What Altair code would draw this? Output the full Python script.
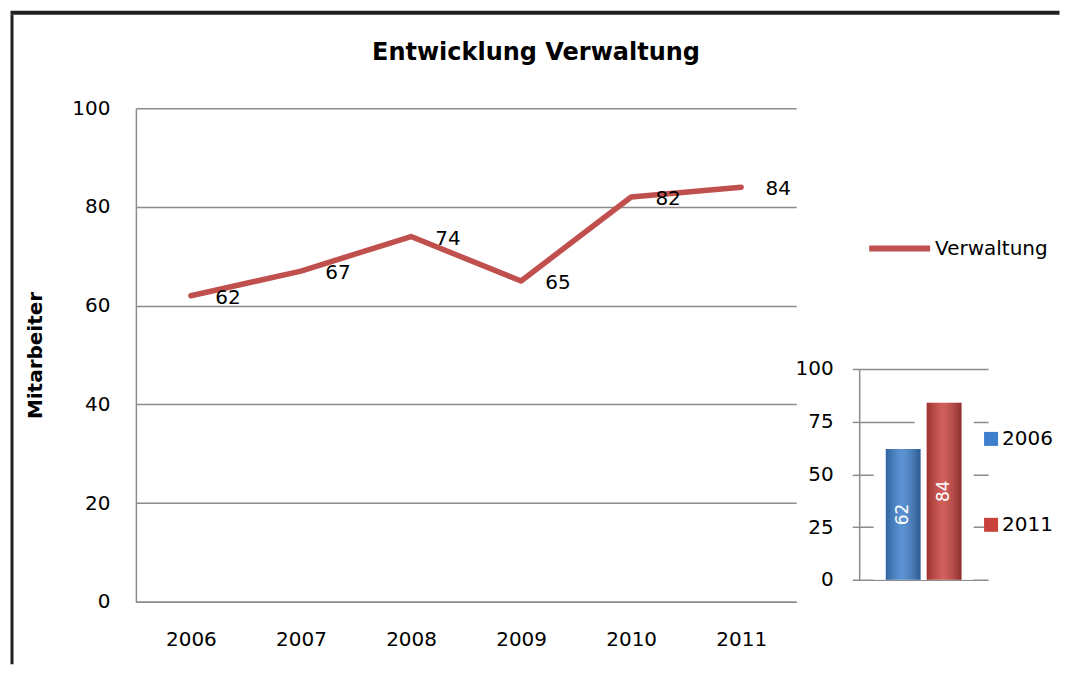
import altair as alt
import pandas as pd

# ---- data ----
years = ["2006", "2007", "2008", "2009", "2010", "2011"]
staff = [62, 67, 74, 65, 82, 84]
series_name = ["Verwaltung"] * 6
compare_years = ["2006", "2011"]
compare_values = [62, 84]
main_ticks = [0, 20, 40, 60, 80, 100]
inset_ticks = [0, 25, 50, 75, 100]

FONT = "DejaVu Sans"
GRID = "#8c8c8c"
LINE_RED = "#c0504d"
BAR_BLUE = "#3d7fcc"
BAR_RED = "#c9403c"
FRAME = "#231f20"

df = pd.DataFrame({"Jahr": years, "Mitarbeiter": staff, "Reihe": series_name})
dfc = pd.DataFrame({"Vergleich": compare_years, "Wert": compare_values})

# ---- main line chart ----
x = alt.X("Jahr:O", scale=alt.Scale(type="point", padding=0.5),
          axis=alt.Axis(title=None, labelAngle=0, labelFontSize=20, labelFont=FONT,
                        labelColor="black", labelPadding=28, ticks=False,
                        domainColor=GRID, domainWidth=1.5, grid=False))
y = alt.Y("Mitarbeiter:Q", scale=alt.Scale(domain=[0, 100], nice=False),
          axis=alt.Axis(values=main_ticks, title="Mitarbeiter", titleFontSize=20,
                        titleFont=FONT, titleFontWeight="bold", titleColor="black",
                        titlePadding=26, labelFontSize=20, labelFont=FONT,
                        labelColor="black", labelPadding=26, ticks=False,
                        domainColor=GRID, domainWidth=1.5, gridColor=GRID,
                        gridWidth=1.5))

base = alt.Chart(df)
line = base.mark_line(strokeWidth=5.5, strokeCap="round", strokeJoin="round").encode(
    x=x, y=y,
    color=alt.Color("Reihe:N", scale=alt.Scale(domain=["Verwaltung"], range=[LINE_RED]),
                    legend=alt.Legend(title=None, orient="none", legendX=731, legendY=107,
                                      symbolType="stroke", symbolSize=3721,
                                      symbolStrokeWidth=6, labelFontSize=20,
                                      labelFont=FONT, labelColor="black", labelOffset=2)))
labels = base.mark_text(dx=37, dy=2, fontSize=20, font=FONT, color="black").encode(
    x=x, y=y, text="Mitarbeiter:Q")

main = alt.layer(line, labels).properties(
    width=661, height=494,
    title=alt.TitleParams("Entwicklung Verwaltung", fontSize=24, font=FONT,
                          fontWeight="bold", color="black", anchor="middle",
                          dx=70, offset=33))

# ---- inset bar chart ----
xb = alt.X("Vergleich:N", scale=alt.Scale(paddingInner=0.15, paddingOuter=0.65), axis=None)
yb = alt.Y("Wert:Q", scale=alt.Scale(domain=[0, 100], nice=False),
           axis=alt.Axis(values=inset_ticks, title=None, labelFontSize=20, labelFont=FONT,
                         labelColor="black", labelPadding=19, tickSize=7, tickColor=GRID,
                         tickWidth=1.5, domainColor=GRID, domainWidth=1.5,
                         gridColor=GRID, gridWidth=1.5))

cb = alt.Chart(dfc)
halo = cb.mark_bar(color="white", width=alt.RelativeBandSize(band=1.7)).encode(x=xb, y=yb)
bars = cb.mark_bar().encode(
    x=xb, y=yb,
    color=alt.Color("Vergleich:N",
                    scale=alt.Scale(domain=compare_years, range=[BAR_BLUE, BAR_RED]),
                    legend=alt.Legend(title=None, orient="none", legendX=122, legendY=60,
                                      symbolType="square", symbolSize=196,
                                      symbolStrokeWidth=0, labelFontSize=20,
                                      labelFont=FONT, labelColor="black",
                                      labelOffset=1, rowPadding=66)))
gloss = cb.mark_bar(fill=alt.Gradient(
    gradient="linear", x1=0, x2=1, y1=0, y2=0,
    stops=[alt.GradientStop(offset=0, color="rgba(0,0,0,0.22)"),
           alt.GradientStop(offset=0.45, color="rgba(255,255,255,0.16)"),
           alt.GradientStop(offset=1, color="rgba(0,0,0,0.30)")])).encode(x=xb, y=yb)
vals = cb.mark_text(angle=270, color="white", fontSize=17, font=FONT,
                    align="center", baseline="middle").transform_calculate(
    half="datum.Wert / 2").encode(x=xb, y=alt.Y("half:Q"), text="Wert:Q")

inset = alt.layer(halo, bars, gloss, vals).properties(width=129, height=211)


def spacer(w, h, fill=None):
    c = alt.Chart(pd.DataFrame({"s": [0]})).mark_point(opacity=0)
    if fill is not None:
        return c.properties(width=w, height=h,
                            view=alt.ViewBackground(fill=fill, stroke="transparent"))
    return c.properties(width=w, height=h)


def indep(c):
    return c.resolve_scale(color="independent", x="independent", y="independent").resolve_legend(
        color="independent")


inset_col = indep(alt.vconcat(spacer(129, 261), inset, spacing=0, bounds="flush"))
charts = indep(alt.hconcat(main, inset_col, spacing=63, bounds="flush"))
col = indep(alt.vconcat(spacer(661, 94), charts, spacing=0, bounds="flush"))
row2 = indep(alt.hconcat(spacer(3, 650, FRAME), col, spacing=123, bounds="flush"))
chart = indep(alt.vconcat(spacer(1050, 4, FRAME), row2, spacing=0, bounds="flush")).properties(
    padding=0
).configure(font=FONT).configure_view(stroke="transparent")

chart.save("out.html", embed_options={"renderer": "svg", "actions": False})
